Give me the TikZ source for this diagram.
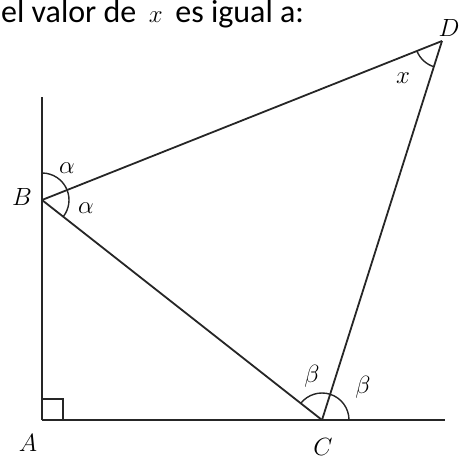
\documentclass[tikz,border=0pt]{standalone}
\usepackage{fontspec}
\setmainfont{Carlito}
\usetikzlibrary{angles}
\tikzset{
  seg/.style={line width=1.8pt, black!85},
  ang/.style={draw, line width=1.4pt, black!85, angle radius=27pt},
  lbl/.style={font=\fontsize{25}{30}\selectfont, inner sep=0pt},
}

\begin{document}
\begin{tikzpicture}[x=1pt, y=1pt]
  \useasboundingbox (0,0) rectangle (461,459);
  \node[anchor=base west, inner sep=0pt, font=\fontsize{32}{38}\selectfont] (title) at (1,436) {el valor de\ \,$x$\ \,es igual a:};
  \coordinate (A) at (42,39);
  \coordinate (B) at (42,259);
  \coordinate (C) at (322,39);
  \coordinate (D) at (442,418);
  \coordinate (T) at (42,362);
  \coordinate (E) at (445,39);
  \foreach \a/\b in {A/T, A/E, B/D, B/C, C/D} \draw[seg] (\a) -- (\b);
  \pic[ang] {angle=D--B--T};
  \pic[ang] {angle=C--B--D};
  \pic[ang] {angle=D--C--B};
  \pic[ang] {angle=E--C--D};
  \pic[ang] {angle=B--D--C};
  \pic[ang, angle radius=21pt] {right angle=C--A--B};
  \node[lbl] (lA) at (28,16) {$A$};
  \node[lbl] (lB) at (22,262) {$B$};
  \node[lbl] (lC) at (323,12) {$C$};
  \node[lbl] (lD) at (449,431) {$D$};
  \node[lbl] (a1) at (67,291) {$\alpha$};
  \node[lbl] (a2) at (86,251) {$\alpha$};
  \node[lbl] (b1) at (312,83) {$\beta$};
  \node[lbl] (b2) at (363,72) {$\beta$};
  \node[lbl] (lx) at (403,381) {$x$};
\end{tikzpicture}
\end{document}
